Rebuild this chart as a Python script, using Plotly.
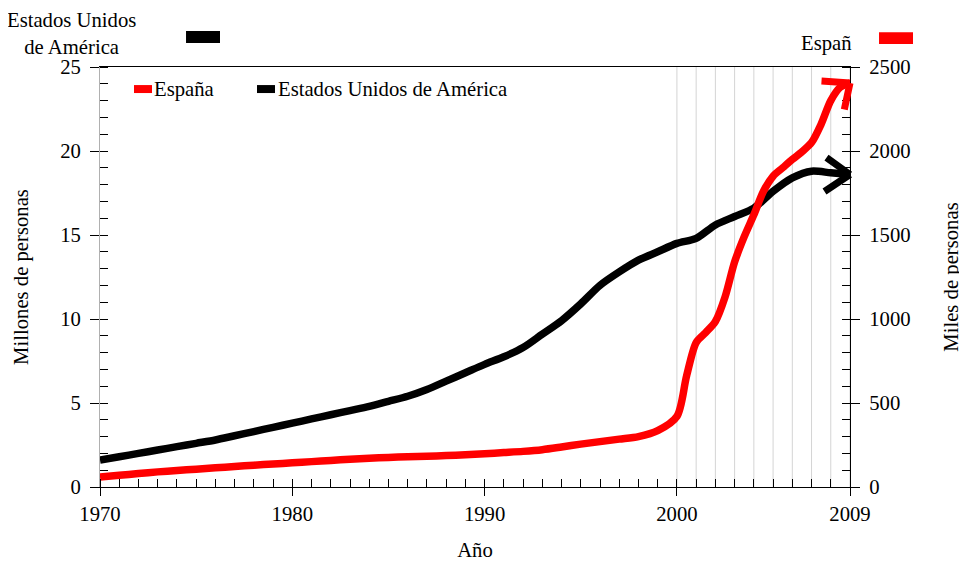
import plotly.graph_objects as go

# ---- data ----
usa_years = list(range(1970, 2010))
usa_millions = [1.6, 1.8, 2.0, 2.2, 2.4, 2.6, 2.8, 3.05, 3.3, 3.55,
                3.8, 4.05, 4.3, 4.55, 4.8, 5.1, 5.4, 5.8, 6.3, 6.8,
                7.3, 7.75, 8.3, 9.1, 9.9, 10.9, 12.0, 12.8, 13.5, 14.0,
                14.5, 14.8, 15.6, 16.1, 16.6, 17.6, 18.4, 18.8, 18.7, 18.6]

spain_years = [1970, 1971, 1972, 1973, 1974, 1975, 1976, 1977, 1978, 1979,
               1980, 1981, 1982, 1983, 1984, 1985, 1986, 1987, 1988, 1989,
               1990, 1991, 1992, 1993, 1994, 1995, 1996, 1997, 1998, 1999,
               2000, 2000.5, 2001, 2001.5, 2002, 2002.5, 2003, 2003.5, 2004,
               2004.5, 2005, 2005.5, 2006, 2006.5, 2007, 2007.5, 2008, 2008.5, 2009]
spain_thousands = [60, 70, 80, 90, 98, 106, 114, 122, 130, 137,
                   144, 151, 158, 165, 171, 176, 180, 183, 187, 192,
                   198, 205, 212, 222, 238, 255, 270, 285, 300, 335,
                   420, 660, 860, 920, 985, 1130, 1340, 1490, 1620,
                   1760, 1850, 1900, 1950, 1995, 2050, 2160, 2300, 2380, 2405]

series_names = ["España", "Estados Unidos de América"]
x_tickvals = [1970, 1980, 1990, 2000, 2009]
grid_years = list(range(2000, 2010))

FONT = "Liberation Serif"
FS = 20.7
RED = "#ff0000"
BLACK = "#000000"

fig = go.Figure()
fig.add_trace(go.Scatter(x=spain_years, y=spain_thousands, name=series_names[0], yaxis="y2",
                         mode="lines", showlegend=False,
                         line=dict(color=RED, width=7.5, shape="spline", smoothing=0.8)))
fig.add_trace(go.Scatter(x=usa_years, y=usa_millions, name=series_names[1], yaxis="y",
                         mode="lines", showlegend=False,
                         line=dict(color=BLACK, width=7.5, shape="spline", smoothing=0.8)))

shapes = []
for gy in grid_years:
    shapes.append(dict(type="line", xref="x", yref="paper", x0=gy, x1=gy, y0=0, y1=1,
                       line=dict(color="#d4d4d4", width=1), layer="below"))
# top swatches
shapes.append(dict(type="rect", xref="paper", yref="paper", x0=0.1147, x1=0.16, y0=1.057, y1=1.0857,
                   fillcolor=BLACK, line=dict(width=0)))
shapes.append(dict(type="rect", xref="paper", yref="paper", x0=1.0387, x1=1.084, y0=1.055, y1=1.083,
                   fillcolor=RED, line=dict(width=0)))
# inner legend swatches
shapes.append(dict(type="rect", xref="paper", yref="paper", x0=0.0453, x1=0.0693, y0=0.938, y1=0.957,
                   fillcolor=RED, line=dict(width=0)))
shapes.append(dict(type="rect", xref="paper", yref="paper", x0=0.2093, x1=0.2333, y0=0.938, y1=0.957,
                   fillcolor=BLACK, line=dict(width=0)))

tfont = dict(family=FONT, size=FS, color=BLACK)
annotations = [
    dict(text="Estados Unidos<br>de América", xref="paper", yref="paper", x=-0.0385, y=1.079,
         xanchor="center", yanchor="middle", showarrow=False, font=tfont, borderpad=0),
    dict(text="Españ", xref="paper", yref="paper", x=0.968, y=1.055,
         xanchor="center", yanchor="middle", showarrow=False, font=tfont),
    dict(text=series_names[0], xref="paper", yref="paper", x=0.0693, y=0.9476,
         xanchor="left", yanchor="middle", showarrow=False, font=tfont),
    dict(text=series_names[1], xref="paper", yref="paper", x=0.2347, y=0.9476,
         xanchor="left", yanchor="middle", showarrow=False, font=tfont),
]
# arrow heads (chevrons) anchored at last data points
for ax_, ay_ in [(-25, -18), (-27, 18)]:
    annotations.append(dict(x=usa_years[-1], y=usa_millions[-1], xref="x", yref="y", text="",
                            showarrow=True, arrowhead=0, arrowwidth=7, arrowcolor=BLACK,
                            ax=ax_, ay=ay_, standoff=0, startstandoff=0))
for ax_, ay_ in [(-30, -2), (-6, 28)]:
    annotations.append(dict(x=spain_years[-1], y=spain_thousands[-1], xref="x", yref="y2", text="",
                            showarrow=True, arrowhead=0, arrowwidth=7, arrowcolor=RED,
                            ax=ax_, ay=ay_, standoff=0, startstandoff=0))

# page body adds an 8px offset, so the figure is 8px smaller and its margins shifted
fig.update_layout(
    width=959, height=553,
    margin=dict(l=92, r=117, t=59, b=74, autoexpand=False),
    paper_bgcolor="white", plot_bgcolor="white",
    font=tfont,
    showlegend=False,
    xaxis=dict(range=[1970, 2009], tickvals=x_tickvals, ticks="outside", ticklen=8,
               tickcolor=BLACK, tickwidth=1.2, showgrid=False, zeroline=False, automargin=False,
               showline=True, mirror=True, linecolor=BLACK, linewidth=1.2,
               minor=dict(dtick=1, tick0=1970, ticks="inside", ticklen=8, tickcolor=BLACK,
                          tickwidth=1, showgrid=False),
               title=dict(text="Año", standoff=18, font=tfont),
               tickfont=tfont),
    yaxis=dict(range=[0, 25], dtick=5, ticks="outside", ticklen=9, tickcolor=BLACK, tickwidth=1.2,
               showgrid=False, zeroline=False, showline=True, linecolor="#b0b0b0", linewidth=1,
               automargin=False, ticklabelstandoff=5,
               minor=dict(dtick=1, ticks="inside", ticklen=8, tickcolor=BLACK, tickwidth=1, showgrid=False),
               title=dict(text="Millones de personas", standoff=25, font=tfont),
               tickfont=tfont),
    yaxis2=dict(range=[0, 2500], dtick=500, overlaying="y", side="right", anchor="x",
                ticks="outside", ticklen=9, tickcolor=BLACK, tickwidth=1.2, automargin=False,
                ticklabelstandoff=5,
                showgrid=False, zeroline=False, showline=True, linecolor=BLACK, linewidth=1.2,
                minor=dict(dtick=100, ticks="inside", ticklen=8, tickcolor=BLACK, tickwidth=1, showgrid=False),
                title=dict(text="Miles de personas", standoff=33, font=tfont),
                tickfont=tfont),
    shapes=shapes,
    annotations=annotations,
)

fig.write_html("out.html")
